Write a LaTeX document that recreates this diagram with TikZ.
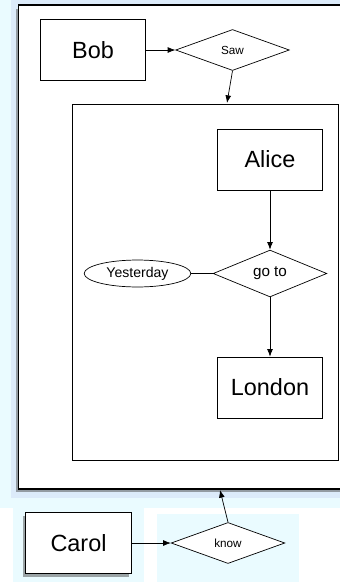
\documentclass[tikz,border=0pt]{standalone}
\usepackage{fontspec}
\setmainfont{Liberation Sans}
\usetikzlibrary{shapes.geometric, arrows.meta, shadows}
\definecolor{glow}{HTML}{EAFBFF}
\definecolor{glowedge}{HTML}{DCEBFA}
\tikzset{
  block/.style={
    rectangle,
    draw=black,
    fill=white,
    inner sep=0pt,
    minimum width=90pt,
    minimum height=52pt,
    font=\fontsize{20}{24}\selectfont
  },
  verb/.style={
    diamond,
    draw=black,
    fill=white,
    inner sep=0pt,
    minimum width=97pt,
    minimum height=35pt
  },
  when/.style={
    ellipse,
    draw=black,
    fill=white,
    inner sep=0pt,
    minimum width=91pt,
    minimum height=23pt,
    font=\fontsize{12}{14}\selectfont
  },
  frame/.style={
    rectangle,
    draw=black,
    fill=white,
    inner sep=0pt
  },
  shade/.style={
    drop shadow={shadow xshift=-2pt, shadow yshift=-3pt, fill=black!70, opacity=0.5}
  }
}
\tikzstyle{arrow} = [-{Latex[length=6.5pt, width=5pt]}]
\def\verbtext#1{\fontsize{10}{12}\selectfont #1}

\begin{document}
\begin{tikzpicture}[x=0.03cm, y=-0.03cm, semithick]
    \useasboundingbox (0,0) rectangle (340,582);
    \fill[glow] (0,0) rectangle (340,508);
    \fill[glowedge] (11,0) rectangle (340,498);
    \node[frame, shade, line width=1pt, minimum width=282pt, minimum height=413pt] (outer) at (184, 247) {};
    \fill[glow] (13,508) rectangle (144,582);
    \fill[glow] (157,514) rectangle (299,582);
    \node[frame, minimum width=227pt, minimum height=304pt] (inner) at (205.5, 282) {};
    \node[block] (bob) at (93, 50) {Bob};
    \node[verb] (saw) at (232.5, 50) {\verbtext{Saw}};
    \node[block] (alice) at (270, 159.5) {Alice};
    \node[verb, font=\fontsize{13}{15}\selectfont] (goto) at (270, 273.5) {go to};
    \node[when] (yesterday) at (137.5, 273.5) {Yesterday};
    \node[block] (london) at (270, 387.5) {London};
    \node[block, shade] (carol) at (78.5, 543) {Carol};
    \node[verb] (know) at (228, 543) {\verbtext{know}};
    \coordinate (sawtip) at (227, 103);
    \coordinate (knowtip) at (220, 490);
    \draw[arrow] (bob) to (saw);
    \draw[arrow] (saw.south) to (sawtip);
    \draw[arrow] (alice) to (goto);
    \draw (yesterday) to (goto);
    \draw[arrow] (goto) to (london);
    \draw[arrow] (carol) to (know);
    \draw[arrow] (know.north) to (knowtip);
  \end{tikzpicture}
\end{document}
